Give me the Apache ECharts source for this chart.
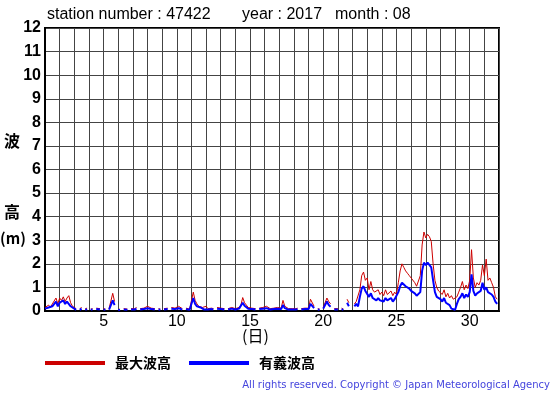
<!DOCTYPE html>
<html>
<head>
<meta charset="utf-8">
<script src="https://cdn.jsdelivr.net/npm/echarts@6/dist/echarts.min.js"></script>
<style>
html,body{margin:0;padding:0;background:#fff;}
#c{width:555px;height:395px;}
</style>
</head>
<body>
<div id="c"></div>
<script>
// 3-hourly values (8 per day), days 1..31 of 2017-08
var stepsPerDay = 8;
var maxWave = [
  0.15,0.2,0.25,0.15,0.3,0.35,0.55,0.3,
  0.55,0.45,0.6,0.4,0.55,0.65,0.35,0.2,
  0.15,0.1,null,0.1,0.15,null,0.1,0.12,
  null,0.08,0.1,null,0.12,0.18,0.1,null,
  0.1,0.08,null,0.1,0.05,0.75,0.4,null,
  0.05,0.08,null,0.1,0.12,0.08,null,0.1,
  0.12,0.1,0.15,null,0.1,0.15,0.12,0.1,
  0.2,0.15,0.12,0.18,0.1,null,0.1,0.08,
  null,0.1,0.08,0.12,null,0.15,0.1,0.12,
  0.1,0.2,0.15,0.1,null,0.12,0.1,0.08,
  0.1,0.8,0.45,0.3,0.2,0.25,0.15,0.1,
  0.2,0.1,0.15,0.12,0.1,null,0.15,0.1,
  0.12,0.15,0.1,null,0.1,0.12,0.15,0.1,
  0.1,0.12,0.15,0.25,0.57,0.35,0.25,0.15,
  0.15,0.12,0.1,0.1,null,0.12,0.1,0.15,
  0.12,0.2,0.15,0.1,0.18,0.12,0.1,0.15,
  0.1,0.12,0.45,0.2,0.15,0.1,0.12,0.1,
  0.15,0.1,0.12,null,0.1,0.15,0.12,0.1,
  0.12,0.5,0.45,0.2,null,0.1,0.08,null,
  0.15,0.2,0.55,0.4,0.3,null,0.1,0.15,
  0.1,null,0.12,0.08,null,0.5,0.35,null,
  null,0.3,0.4,0.35,0.9,1.5,1.65,1.3,
  1.4,0.9,1.25,0.9,0.8,0.75,0.9,0.7,
  0.8,0.65,0.9,0.7,0.75,0.85,0.65,0.8,
  0.7,1.2,1.7,2.0,1.85,1.7,1.6,1.5,
  1.4,1.45,1.2,1.05,1.0,1.5,2.8,3.35,
  3.1,3.25,3.15,2.95,2.0,1.3,1.0,0.85,
  0.8,0.7,0.9,0.6,0.75,0.55,0.65,0.5,
  0.45,0.6,0.8,1.0,1.25,0.9,1.1,0.95,
  1.3,2.6,1.4,1.0,1.2,1.1,1.3,1.95,
  1.5,2.2,1.3,1.4,1.2,1.0,0.6,0.5
];
var sigWave = [
  0.1,0.15,0.15,0.1,0.2,0.25,0.4,0.2,
  0.35,0.3,0.45,0.3,0.4,0.4,0.2,0.15,
  0.1,0.05,null,0.05,0.1,null,0.05,0.08,
  null,0.05,0.07,null,0.08,0.12,0.06,null,
  0.06,0.05,null,0.06,0.03,0.45,0.25,null,
  0.03,0.05,null,0.06,0.08,0.05,null,0.06,
  0.08,0.06,0.1,null,0.06,0.1,0.08,0.06,
  0.12,0.1,0.08,0.12,0.06,null,0.06,0.05,
  null,0.06,0.05,0.08,null,0.1,0.06,0.08,
  0.06,0.12,0.1,0.06,null,0.08,0.06,0.05,
  0.06,0.55,0.3,0.2,0.12,0.15,0.1,0.06,
  0.12,0.06,0.1,0.08,0.06,null,0.1,0.06,
  0.08,0.1,0.06,null,0.06,0.08,0.1,0.06,
  0.06,0.08,0.1,0.15,0.35,0.22,0.15,0.1,
  0.1,0.08,0.06,0.06,null,0.08,0.06,0.1,
  0.08,0.12,0.1,0.06,0.12,0.08,0.06,0.1,
  0.06,0.08,0.25,0.12,0.1,0.06,0.08,0.06,
  0.1,0.06,0.08,null,0.06,0.1,0.08,0.06,
  0.08,0.3,0.28,0.12,null,0.06,0.05,null,
  0.1,0.12,0.4,0.25,0.18,null,0.06,0.1,
  0.06,null,0.08,0.05,null,0.35,0.2,null,
  null,0.2,0.3,0.2,0.6,0.95,1.05,0.85,
  0.9,0.6,0.75,0.55,0.5,0.45,0.55,0.45,
  0.5,0.4,0.55,0.45,0.5,0.55,0.4,0.5,
  0.45,0.8,1.05,1.2,1.15,1.05,1.0,0.95,
  0.85,0.9,0.75,0.65,0.6,0.8,1.7,2.05,
  1.95,2.05,2.0,1.85,1.3,0.8,0.6,0.55,
  0.5,0.4,0.55,0.35,0.4,0.25,0.1,0.08,
  0.05,0.3,0.5,0.6,0.75,0.55,0.7,0.6,
  0.8,1.55,0.85,0.65,0.75,0.7,0.85,1.2,
  0.9,1.0,0.8,0.85,0.7,0.6,0.4,0.3
];
var xTickLabels = [5,10,15,20,25,30];
var seriesNames = ['最大波高','有義波高'];

function pairs(arr){
  return arr.map(function(v,i){ return [1 + i/stepsPerDay, v]; });
}

var chart = echarts.init(document.getElementById('c'), null, {renderer:'canvas'});
var font = '"Liberation Sans", Arial, sans-serif';
var cjk = '"Noto Sans CJK JP", sans-serif';
chart.setOption({
  animation:false,
  backgroundColor:'#fff',
  grid:{left:45,right:56,top:28,bottom:84,show:true,borderColor:'#000',borderWidth:2,containLabel:false},
  xAxis:{
    type:'value',min:1,max:32,interval:1,
    axisLine:{show:true,lineStyle:{color:'#000',width:2}},
    axisTick:{show:false},
    splitLine:{show:true,lineStyle:{color:'#444',width:1}},
    axisLabel:{
      margin:3,color:'#000',fontSize:16,fontFamily:font,
      formatter:function(v){ return xTickLabels.indexOf(v)>=0 ? String(v) : ''; }
    }
  },
  yAxis:{
    type:'value',min:0,max:12,interval:1,
    axisLine:{show:true,lineStyle:{color:'#000',width:2}},
    axisTick:{show:false},
    splitLine:{show:true,lineStyle:{color:'#444',width:1}},
    axisLabel:{margin:4,color:'#000',fontSize:16,fontWeight:'bold',fontFamily:font}
  },
  legend:{
    left:45,top:356,padding:0,itemWidth:60,itemHeight:4,itemGap:18,icon:'rect',
    textStyle:{fontSize:14,fontWeight:'bold',color:'#000',fontFamily:cjk,padding:[0,0,0,5]},
    data:seriesNames
  },
  series:[
    {name:seriesNames[0],type:'line',showSymbol:false,connectNulls:false,
     itemStyle:{color:'#cc0000'},lineStyle:{color:'#cc0000',width:1},data:pairs(maxWave)},
    {name:seriesNames[1],type:'line',showSymbol:false,connectNulls:false,
     itemStyle:{color:'#0000ff'},lineStyle:{color:'#0000ff',width:2},data:pairs(sigWave)}
  ],
  graphic:[
    {type:'text',left:47,top:7,style:{text:'station number : 47422',fontSize:16,fontFamily:font,fill:'#000'}},
    {type:'text',left:242,top:7,style:{text:'year : 2017',fontSize:16,fontFamily:font,fill:'#000'}},
    {type:'text',left:335,top:7,style:{text:'month : 08',fontSize:16,fontFamily:font,fill:'#000'}},
    {type:'text',left:4,top:133,style:{text:'波',fontSize:16,fontWeight:'bold',fontFamily:cjk,fill:'#000'}},
    {type:'text',left:4,top:204,style:{text:'高',fontSize:16,fontWeight:'bold',fontFamily:cjk,fill:'#000'}},
    {type:'text',left:0,top:231,style:{text:'(m)',fontSize:15,fontWeight:'bold',fontFamily:cjk,fill:'#000'}},
    {type:'text',left:242,top:328,style:{text:'(日)',fontSize:16,fontFamily:cjk,fill:'#000'}},
    {type:'text',right:5,top:380,style:{text:'All rights reserved. Copyright © Japan Meteorological Agency',fontSize:10,fontFamily:'"DejaVu Sans", sans-serif',fill:'#4444dd'}}
  ]
});
</script>
</body>
</html>
